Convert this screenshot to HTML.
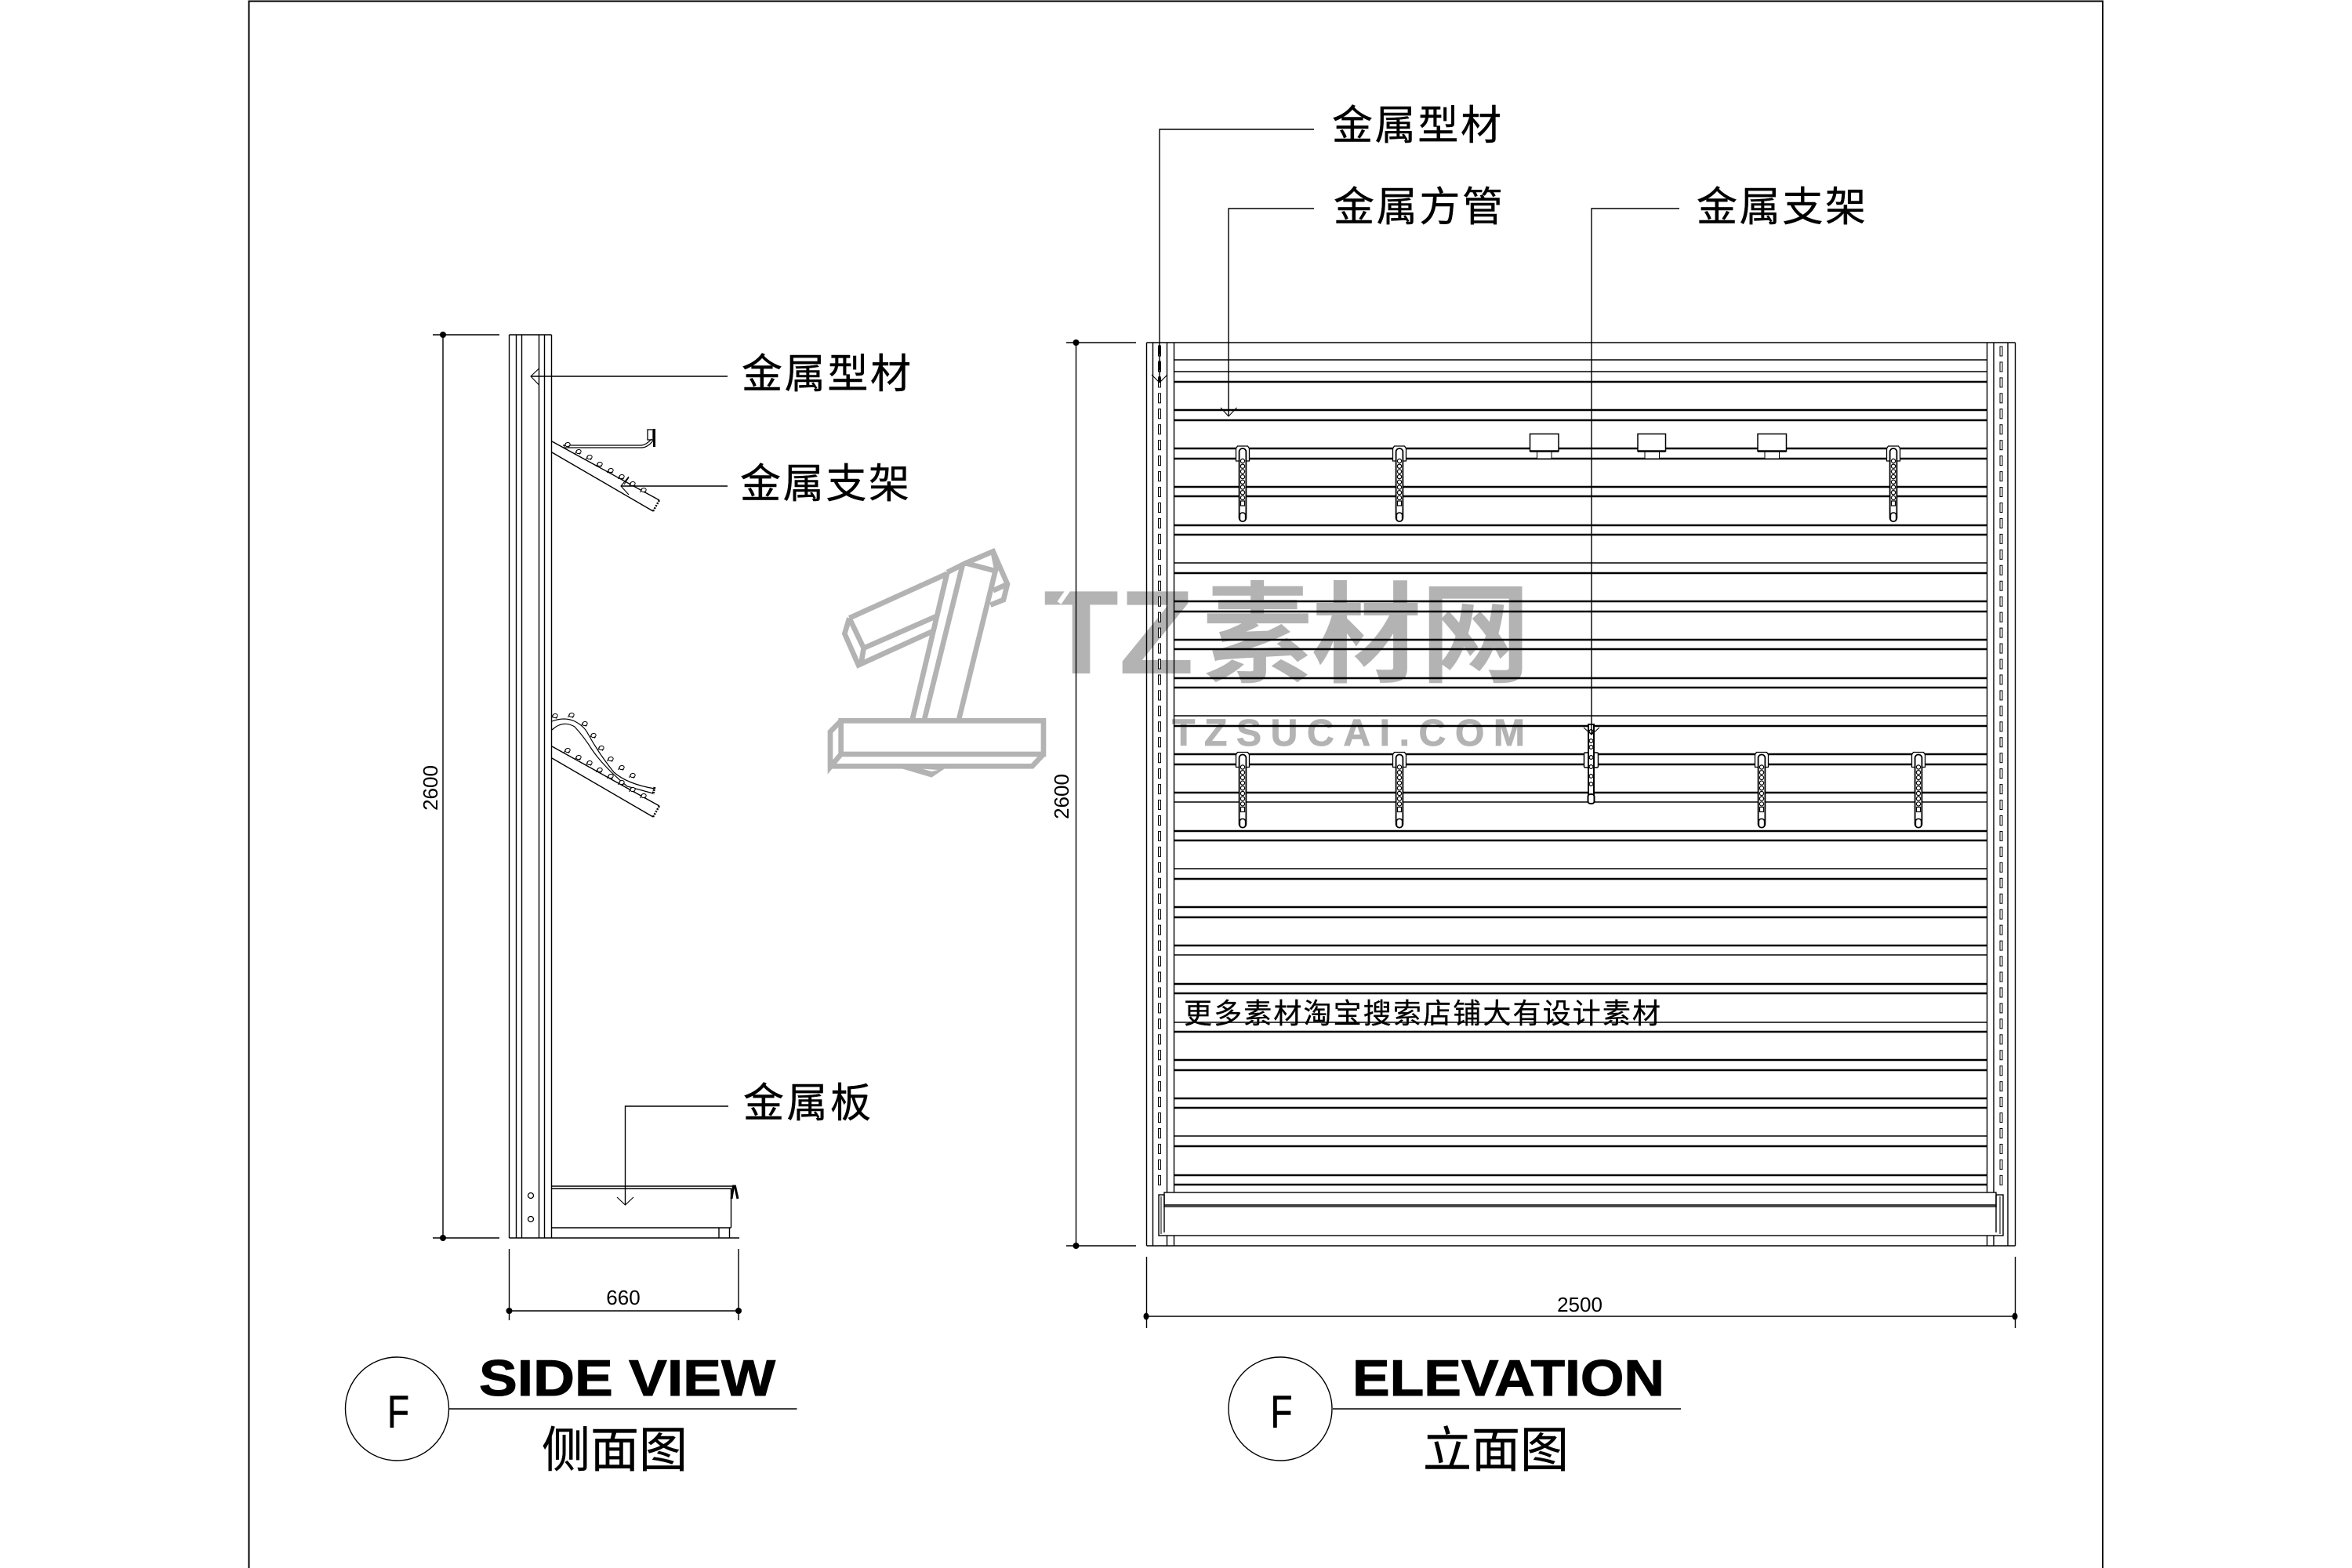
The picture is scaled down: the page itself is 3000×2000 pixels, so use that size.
<!DOCTYPE html>
<html><head><meta charset="utf-8"><title>Side view and elevation</title>
<style>
html,body{margin:0;padding:0;background:#fff}
svg{display:block}
text{font-family:"Liberation Sans","Noto Sans CJK SC",sans-serif;fill:#000}
.cjk{font-family:"Liberation Sans","Noto Sans CJK SC",sans-serif;font-size:52px;stroke:#000;stroke-width:.4}
.dim{font-size:26px}
.ttl{font-size:65px;font-weight:700;stroke:#000;stroke-width:1}
</style></head><body>
<svg xmlns="http://www.w3.org/2000/svg" width="3000" height="2000" viewBox="0 0 3000 2000">
<defs>
<g id="h" fill="#fff" stroke="#000" stroke-width="1.5">
<path d="M-8.5 588V572l2-3h13l2 3v16z" stroke-width="1.3"/>
<rect x="-4.4" y="572" width="8.8" height="93" rx="4.2" stroke-width="1.8"/>
<g stroke-width="1.2">
<circle cy="588" r="2.6"/><circle cy="594.7" r="2.6"/><circle cy="601.4" r="2.6"/><circle cy="608.1" r="2.6"/><circle cy="614.8" r="2.6"/><circle cy="621.5" r="2.6"/><circle cy="628.2" r="2.6"/><circle cy="634.9" r="2.6"/><rect x="-2.5" y="639" width="5" height="6"/>
</g>
<rect x="-3.6" y="654" width="7.2" height="11" rx="3.2"/>
</g>
<g id="c" fill="#fff" stroke="#000" stroke-width="1"><ellipse rx="3.2" ry="2.5" transform="rotate(-10)"/><path d="M-2-2-4.500 3M2.500 2 1 3.500" fill="none"/></g>
<pattern id="sl" patternUnits="userSpaceOnUse" x="1476.5" y="441" width="6" height="19.95">
<rect x="1" y="1" width="3" height="12" fill="#fff" stroke="#000" stroke-width="1"/>
</pattern>
<pattern id="sr" patternUnits="userSpaceOnUse" x="2550" y="441" width="6" height="19.95">
<rect x="1" y="1" width="3" height="12" fill="#fff" stroke="#000" stroke-width="1"/>
</pattern>
</defs>
<rect width="3000" height="2000" fill="#fff"/>

<!-- watermark -->
<g transform="translate(1040 690) scale(.3333)" fill="none" stroke="#b3b3b3" stroke-width="20" stroke-linejoin="miter">
<rect x="98" y="688" width="775" height="128"/>
<path d="M98 688 57 730V865L98 816M57 862H830L873 816"/>
<path d="M320 868 445 905 500 868z" fill="#b3b3b3" stroke="none"/>
<path d="M410 872 445 882 470 876z" fill="#fff" stroke="none"/>
<path d="M372 680 505 120M418 680 565 85M550 680 690 110"/>
<path d="M505 120 575 85 690 115M575 85 680 40 735 165 720 225 670 245M680 190 735 165M680 40 695 115"/>
<path d="M130 295 505 125M130 295 112 355 165 475 450 345M130 295 185 410 470 285M185 410 175 470"/>
</g>
<text x="1331" y="859" font-size="152" font-weight="700" style="fill:#b3b3b3" textLength="192" lengthAdjust="spacingAndGlyphs">TZ</text>
<path d="M1367 746 1351 769" stroke="#fff" stroke-width="6" fill="none"/>
<text x="1534" y="859" font-size="140" font-weight="700" style="fill:#b3b3b3" textLength="418" lengthAdjust="spacing">素材网</text>
<text x="1495" y="951" font-size="48" font-weight="700" style="fill:#b3b3b3;stroke:#b3b3b3;stroke-width:.8" textLength="450" lengthAdjust="spacing">TZSUCAI.COM</text>

<!-- page frame -->
<path d="M317.5 2000V1.5H2682V2000" fill="none" stroke="#000" stroke-width="2"/>

<!-- SIDE VIEW -->
<g fill="none" stroke="#000" stroke-width="1.4">
<path d="M649.5 427V1579M658.5 427V1579M665.5 427V1579M687.5 427V1579M694.5 427V1579M703.5 427V1579M649.5 427H703.5M649.5 1579H943"/>
<path d="M565 427V1579M552 427H637M552 1579H637"/>
<path d="M649.5 1593V1684M942 1593V1684M649.5 1672H942"/>
<!-- leaders -->
<path d="M928 480H677"/><path d="M687.5 470 677 480 687.5 491" stroke-width="1.1"/>
<path d="M928 620H792"/><path d="M802 608 792 620 802 631" stroke-width="1.1"/>
<path d="M802 609 796 618" stroke-width="1"/>
<path d="M929 1411H797.500V1537"/><path d="M787 1527 797.500 1537 808 1527" stroke-width="1.1"/>
<!-- upper shelf -->
<path d="M704 563 841 638M704 577 833 652"/><path d="M833 652 841 638" stroke-dasharray="2 1.5" stroke-width="2.5"/>
<path d="M718 568H817Q824 568 831 560M718 571H818Q826 571 833 562" stroke-width="1.2"/>
<rect x="826" y="548" width="7" height="13" stroke-width="1.3"/>
<path d="M834.500 547V570" stroke-width="3"/>
<!-- lower shelf -->
<path d="M704 952 841 1028M704 967 833 1042"/><path d="M833 1042 841 1028" stroke-dasharray="2 1.5" stroke-width="2.500"/>
<path d="M704 920Q720 914 733 920 745 926 750 936 763 960 783 985 800 1000 835 1006" stroke-width="1.2"/>
<path d="M704 931Q718 918 733 927 745 940 755 956 770 978 800 1003L833 1012" stroke-width="1.2"/>
<path d="M835 1004 833 1013" stroke-width="3" stroke-dasharray="2 1"/>
<!-- base shelf -->
<path d="M704 1513H934M704 1516H933M932.500 1516V1566M704 1566H932.500M917 1566V1579M930.500 1566V1579"/>
<path d="M933 1529 935.500 1513 937.500 1513 941 1529" stroke-width="3"/>
<circle cx="677" cy="1525" r="3.500" stroke-width="1.300"/><circle cx="677" cy="1555" r="3.500" stroke-width="1.300"/>
</g>
<use href="#c" x="724" y="567"/><use href="#c" x="738" y="576"/><use href="#c" x="752" y="583"/><use href="#c" x="765" y="592"/><use href="#c" x="779" y="600"/><use href="#c" x="793" y="608"/><use href="#c" x="807" y="617"/><use href="#c" x="821" y="625"/>
<use href="#c" x="724" y="957"/><use href="#c" x="738" y="966"/><use href="#c" x="752" y="973"/><use href="#c" x="765" y="982"/><use href="#c" x="779" y="990"/><use href="#c" x="793" y="998"/><use href="#c" x="807" y="1007"/><use href="#c" x="821" y="1015"/>
<use href="#c" x="708" y="913"/><use href="#c" x="729" y="912"/><use href="#c" x="746" y="923"/><use href="#c" x="757" y="938"/><use href="#c" x="767" y="954"/><use href="#c" x="779" y="968"/><use href="#c" x="793" y="979"/><use href="#c" x="807" y="989"/>
<g fill="#000"><circle cx="565" cy="427" r="4"/><circle cx="565" cy="1579" r="4"/><circle cx="649.5" cy="1672" r="4"/><circle cx="942" cy="1672" r="4"/></g>
<text class="dim" transform="translate(558 1005) rotate(-90)" text-anchor="middle">2600</text>
<text class="dim" x="795" y="1664" text-anchor="middle">660</text>
<text class="cjk" x="946" y="495" textLength="216" lengthAdjust="spacing">金属型材</text>
<text class="cjk" x="944" y="635" textLength="216" lengthAdjust="spacing">金属支架</text>
<text class="cjk" x="948" y="1425" textLength="163" lengthAdjust="spacing">金属板</text>

<!-- ELEVATION frame -->
<g fill="none" stroke="#000" stroke-width="1.4">
<path d="M1462.500 437V1589M1470.500 437V1589M1488.500 437V1589M1497.500 437V1589M2534.500 437V1589M2543 437V1589M2561 437V1589M2570.500 437V1589"/>
<path d="M1462.500 437H2570.500M1462.500 1589H2570.500M1498 459H2534M1498 474H2534"/>
<path d="M1372.500 437V1589M1360 437H1449M1360 1589H1449"/>
<path d="M1462.500 1603V1694M2570.500 1603V1694M1462.500 1679H2570.500"/>
<!-- thin rails -->
<path d="M1498 718H2534M1498 913H2534M1498 1023H2534M1498 1108H2534M1498 1218H2534M1498 1304H2534M1498 1449H2534"/>
</g>
<path stroke="#000" stroke-width="2.500" fill="none" d="M1498 487H2534M1498 523H2534M1498 536H2534M1498 572H2534M1498 585H2534M1498 621H2534M1498 633H2534M1498 670H2534M1498 682H2534M1498 731H2534M1498 767H2534M1498 780H2534M1498 816H2534M1498 828H2534M1498 865H2534M1498 877H2534M1498 926H2534M1498 962H2534M1498 975H2534M1498 1011H2534M1498 1060H2534M1498 1072H2534M1498 1121H2534M1498 1157H2534M1498 1170H2534M1498 1206H2534M1498 1255H2534M1498 1267H2534M1498 1316H2534M1498 1352H2534M1498 1365H2534M1498 1401H2534M1498 1413H2534M1498 1462H2534M1498 1499H2534M1498 1511H2534"/>
<rect x="1476.500" y="441" width="6" height="1077" fill="url(#sl)"/>
<rect x="2550" y="441" width="6" height="1077" fill="url(#sr)"/>

<!-- bottom shelf -->
<rect x="1478" y="1524" width="1077" height="52" fill="#fff" stroke="#000" stroke-width="1.400"/>
<rect x="1485" y="1521" width="1061" height="18" fill="#fff" stroke="#000" stroke-width="1.400"/>
<path d="M1485 1537H2546M1485 1524V1572M2546 1524V1572" stroke="#000" stroke-width="1.400" fill="none"/>
<path d="M1481 1526V1574M2551 1526V1574" stroke="#000" stroke-width="1" fill="none"/>

<!-- hangers row 1 -->
<use href="#h" x="1585"/><use href="#h" x="1785"/><use href="#h" x="2415"/>
<!-- hangers row 2 -->
<g transform="translate(0 390.500)"><use href="#h" x="1585"/><use href="#h" x="1785"/><use href="#h" x="2247"/><use href="#h" x="2447"/></g>
<!-- special hanger -->
<g fill="#fff" stroke="#000" stroke-width="1.500">
<rect x="2020.500" y="960" width="18" height="19" rx="1.500"/>
<rect x="2026" y="924" width="7" height="95" stroke-width="2"/>
<g stroke-width="1.200"><circle cx="2029.500" cy="933" r="2.400"/><circle cx="2029.500" cy="945" r="2.400"/><circle cx="2029.500" cy="953" r="2.400"/><circle cx="2029.500" cy="966" r="2.400"/><circle cx="2029.500" cy="978" r="2.400"/><circle cx="2029.500" cy="990" r="2.400"/><circle cx="2029.500" cy="1000" r="2.400"/></g>
<rect x="2025.500" y="1013" width="8" height="12" rx="3" stroke-width="2"/>
</g>
<!-- boxes -->
<g fill="#fff" stroke="#000" stroke-width="1.500">
<rect x="1960.500" y="576" width="18.500" height="9" stroke-width="1"/><rect x="1951.500" y="553.500" width="36.500" height="22"/>
<rect x="2098" y="576" width="18.500" height="9" stroke-width="1"/><rect x="2089" y="553.500" width="35.500" height="22"/>
<rect x="2251" y="576" width="18.500" height="9" stroke-width="1"/><rect x="2242" y="553.500" width="36.500" height="22"/>
</g>
<path d="M1951.500 575.500H1988M2089 575.500H2124.500M2242 575.500H2278.500" stroke="#000" stroke-width="2.500"/>

<!-- elevation leaders -->
<g fill="none" stroke="#000" stroke-width="1.400">
<path d="M1676 165H1479V488"/><path d="M1469 478 1479 488 1489 478" stroke-width="1.100"/>
<path d="M1676 266H1567V531"/><path d="M1557 520 1567 531 1577.500 520" stroke-width="1.100"/>
<path d="M2142 266H2030V937"/><path d="M2020 928 2030 937 2040 928" stroke-width="1.100"/>
</g>
<path d="M1479 440V488" stroke="#000" stroke-width="3" stroke-dasharray="12 8"/>
<g fill="#000"><circle cx="1372.500" cy="437" r="4"/><circle cx="1372.500" cy="1589" r="4"/><ellipse cx="1462" cy="1679" rx="3.500" ry="4.500"/><ellipse cx="2570" cy="1679" rx="3.500" ry="4.500"/></g>
<text class="dim" transform="translate(1363 1016) rotate(-90)" text-anchor="middle">2600</text>
<text class="dim" x="2015" y="1673" text-anchor="middle">2500</text>
<text class="cjk" x="1699" y="178" textLength="216" lengthAdjust="spacing">金属型材</text>
<text class="cjk" x="1701" y="282" textLength="216" lengthAdjust="spacing">金属方管</text>
<text class="cjk" x="2164" y="282" textLength="216" lengthAdjust="spacing">金属支架</text>
<text x="1510" y="1305" font-size="36" textLength="608" lengthAdjust="spacing" style="stroke:#000;stroke-width:.3">更多素材淘宝搜索店铺大有设计素材</text>

<!-- titles -->
<g fill="none" stroke="#000" stroke-width="1.400">
<circle cx="506.500" cy="1797" r="66"/><path d="M573 1797H1016.500"/>
<circle cx="1633" cy="1797" r="66"/><path d="M1700 1797H2144"/>
</g>
<text x="494" y="1821" font-size="58" textLength="28" lengthAdjust="spacingAndGlyphs" style="stroke:#000;stroke-width:.6">F</text>
<text x="1620.500" y="1821" font-size="58" textLength="28" lengthAdjust="spacingAndGlyphs" style="stroke:#000;stroke-width:.6">F</text>
<text class="ttl" x="611" y="1780" textLength="378" lengthAdjust="spacingAndGlyphs">SIDE VIEW</text>
<text class="ttl" x="1725" y="1780" textLength="398" lengthAdjust="spacingAndGlyphs">ELEVATION</text>
<text x="691" y="1871" font-size="62" textLength="186" lengthAdjust="spacing" style="stroke:#000;stroke-width:.4">侧面图</text>
<text x="1815" y="1871" font-size="62" textLength="186" lengthAdjust="spacing" style="stroke:#000;stroke-width:.4">立面图</text>
</svg>
</body></html>
